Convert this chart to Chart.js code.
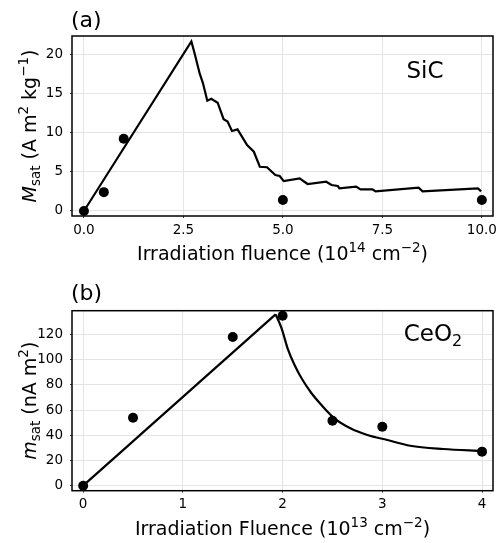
<!DOCTYPE html>
<html>
<head>
<meta charset="utf-8">
<script src="https://cdn.jsdelivr.net/npm/chart.js@4/dist/chart.umd.min.js"></script>
<style>
  html, body { margin: 0; padding: 0; background: #fff; }
  #wrap { position: relative; width: 498px; height: 543px; }
  .box { position: absolute; left: 0; width: 498px; }
</style>
</head>
<body>
<div id="wrap">
  <div class="box" style="top:0;height:270px"><canvas id="c1"></canvas></div>
  <div class="box" style="top:270px;height:273px"><canvas id="c2"></canvas></div>
</div>
<script>
// ---------- Panel (a): SiC ----------
const sicFluence = [0, 0.5, 1.0, 5.0, 10.0];
const sicMsat    = [0, 2.4, 9.2, 1.4, 1.4];
const sicFitX = [0, 2.70, 2.78, 2.91, 2.99, 3.10, 3.20, 3.36, 3.51, 3.61, 3.72, 3.86, 4.10, 4.27, 4.42, 4.60, 4.81, 4.92, 5.02, 5.42, 5.62, 6.09, 6.22, 6.38, 6.42, 6.84, 6.95, 7.25, 7.33, 8.41, 8.51, 9.90, 9.98];
const sicFitY = [0, 21.6, 20.1, 17.5, 16.3, 14.05, 14.3, 13.8, 11.7, 11.4, 10.2, 10.4, 8.4, 7.55, 5.64, 5.57, 4.59, 4.46, 3.8, 4.16, 3.44, 3.73, 3.31, 3.18, 2.89, 3.1, 2.76, 2.76, 2.5, 2.97, 2.5, 2.89, 2.5];
const sicXTicks = [0, 2.5, 5, 7.5, 10];
const sicYTicks = [0, 5, 10, 15, 20];

// ---------- Panel (b): CeO2 ----------
const ceoFluence = [0, 0.5, 1.5, 2.0, 2.5, 3.0, 4.0];
const ceoMsat    = [0, 53.9, 117.9, 134.8, 51.5, 46.8, 27.0];
const ceoRiseX = [0, 1.93];
const ceoRiseY = [0, 135.9];
const ceoDecayX = [1.93, 1.99, 2.05, 2.12, 2.19, 2.29, 2.39, 2.52, 2.68, 2.85, 3.05, 3.28, 3.61, 4.0];
const ceoDecayY = [135.9, 124.8, 109, 95.7, 85.2, 73.3, 64, 53.4, 45.5, 40.2, 36.2, 31.7, 29.1, 27.5];
const ceoXTicks = [0, 1, 2, 3, 4];
const ceoYTicks = [0, 20, 40, 60, 80, 100, 120];

const FONT = "'DejaVu Sans', sans-serif";

function pts(xs, ys) { return xs.map((x, i) => ({ x: x, y: ys[i] })); }

function richWidth(ctx, segs) {
  let w = 0;
  for (const s of segs) {
    ctx.font = (s.italic ? 'italic ' : '') + s.size + 'px ' + FONT;
    w += ctx.measureText(s.t).width;
  }
  return w;
}
function drawRich(ctx, segs, x, y) {
  const w = richWidth(ctx, segs);
  let cx = x - w / 2;
  ctx.textAlign = 'left';
  ctx.textBaseline = 'alphabetic';
  ctx.fillStyle = '#000';
  for (const s of segs) {
    ctx.font = (s.italic ? 'italic ' : '') + s.size + 'px ' + FONT;
    ctx.fillText(s.t, cx, y + (s.dy || 0));
    cx += ctx.measureText(s.t).width;
  }
}

function makePlugin(cfg) {
  return {
    id: 'decor',
    afterDraw(chart) {
      const ctx = chart.ctx;
      const a = chart.chartArea;
      ctx.save();
      ctx.strokeStyle = '#000';
      ctx.lineWidth = 1.5;
      ctx.strokeRect(a.left, a.top, a.right - a.left, a.bottom - a.top);
      ctx.fillStyle = '#000';
      ctx.font = '22px ' + FONT;
      ctx.textAlign = 'left';
      ctx.textBaseline = 'alphabetic';
      ctx.fillText(cfg.panel, cfg.panelX, cfg.panelY);
      drawRich(ctx, cfg.material, cfg.matX, cfg.matY);
      drawRich(ctx, cfg.xTitle, (a.left + a.right) / 2, cfg.xTitleY);
      ctx.translate(cfg.yTitleX, (a.top + a.bottom) / 2);
      ctx.rotate(-Math.PI / 2);
      drawRich(ctx, cfg.yTitle, 0, 0);
      ctx.restore();
    }
  };
}

function makeChart(id, opts) {
  const gridColor = '#e4e4e4';
  return new Chart(document.getElementById(id), {
    type: 'scatter',
    data: { datasets: opts.datasets },
    options: {
      responsive: true,
      maintainAspectRatio: false,
      animation: false,
      events: [],
      layout: { padding: { left: 0, right: 1, top: opts.top, bottom: 0 } },
      plugins: { legend: { display: false }, tooltip: { enabled: false } },
      scales: {
        x: {
          type: 'linear',
          min: opts.xMin, max: opts.xMax,
          grid: { color: gridColor, lineWidth: 1, drawTicks: true, tickLength: 2, tickColor: '#444' },
          border: { display: false },
          afterBuildTicks: s => { s.ticks = opts.xTicks.map(v => ({ value: v })); },
          afterFit: s => { s.height = opts.xAxisH; s.paddingLeft = 0; s.paddingRight = 0; },
          ticks: {
            color: '#000', padding: 4, maxRotation: 0, autoSkip: false,
            font: { family: FONT, size: 13.5 },
            callback: opts.xFmt
          }
        },
        y: {
          type: 'linear',
          min: opts.yMin, max: opts.yMax,
          grid: { color: gridColor, lineWidth: 1, drawTicks: true, tickLength: 2, tickColor: '#444' },
          border: { display: false },
          afterBuildTicks: s => { s.ticks = opts.yTicks.map(v => ({ value: v })); },
          afterFit: s => { s.width = 72; s.paddingTop = 0; s.paddingBottom = 0; },
          ticks: {
            color: '#000', padding: 7, autoSkip: false,
            font: { family: FONT, size: 13.5 },
            callback: v => String(v)
          }
        }
      }
    },
    plugins: [makePlugin(opts.decor)]
  });
}

const lineStyle = { showLine: true, borderColor: '#000', borderWidth: 2.2, pointRadius: 0, fill: false };
const dotStyle = { showLine: false, pointRadius: 5, pointBackgroundColor: '#000', pointBorderColor: '#000', borderWidth: 0 };

makeChart('c1', {
  top: 36, xAxisH: 54,
  xMin: -0.3, xMax: 10.28, yMin: -0.64, yMax: 22.3,
  xTicks: sicXTicks, yTicks: sicYTicks,
  xFmt: v => Number(v).toFixed(1),
  datasets: [
    Object.assign({ data: pts(sicFitX, sicFitY), tension: 0 }, lineStyle),
    Object.assign({ data: pts(sicFluence, sicMsat) }, dotStyle)
  ],
  decor: {
    panel: '(a)', panelX: 71, panelY: 26.5,
    material: [{ t: 'SiC', size: 23 }], matX: 425, matY: 78,
    xTitle: [
      { t: 'Irradiation fluence (10', size: 19 },
      { t: '14', size: 13.5, dy: -8 },
      { t: ' cm', size: 19 },
      { t: '\u22122', size: 13.5, dy: -8 },
      { t: ')', size: 19 }
    ],
    xTitleY: 259.5,
    yTitle: [
      { t: 'M', size: 19, italic: true },
      { t: 'sat', size: 13.5, dy: 4 },
      { t: ' (A m', size: 19 },
      { t: '2', size: 13.5, dy: -8 },
      { t: ' kg', size: 19 },
      { t: '\u22121', size: 13.5, dy: -8 },
      { t: ')', size: 19 }
    ],
    yTitleX: 35.5
  }
});

makeChart('c2', {
  top: 40.7, xAxisH: 52.3,
  xMin: -0.112, xMax: 4.11, yMin: -3.97, yMax: 138.8,
  xTicks: ceoXTicks, yTicks: ceoYTicks,
  xFmt: v => String(v),
  datasets: [
    Object.assign({ data: pts(ceoRiseX, ceoRiseY), tension: 0 }, lineStyle),
    Object.assign({ data: pts(ceoDecayX, ceoDecayY), cubicInterpolationMode: 'monotone' }, lineStyle),
    Object.assign({ data: pts(ceoFluence, ceoMsat) }, dotStyle)
  ],
  decor: {
    panel: '(b)', panelX: 71, panelY: 30,
    material: [{ t: 'CeO', size: 23 }, { t: '2', size: 16, dy: 5 }], matX: 433, matY: 70.5,
    xTitle: [
      { t: 'Irradiation Fluence (10', size: 19 },
      { t: '13', size: 13.5, dy: -8 },
      { t: ' cm', size: 19 },
      { t: '\u22122', size: 13.5, dy: -8 },
      { t: ')', size: 19 }
    ],
    xTitleY: 265,
    yTitle: [
      { t: 'm', size: 19, italic: true },
      { t: 'sat', size: 13.5, dy: 4 },
      { t: ' (nA m', size: 19 },
      { t: '2', size: 13.5, dy: -8 },
      { t: ')', size: 19 }
    ],
    yTitleX: 35.5
  }
});
</script>
</body>
</html>
